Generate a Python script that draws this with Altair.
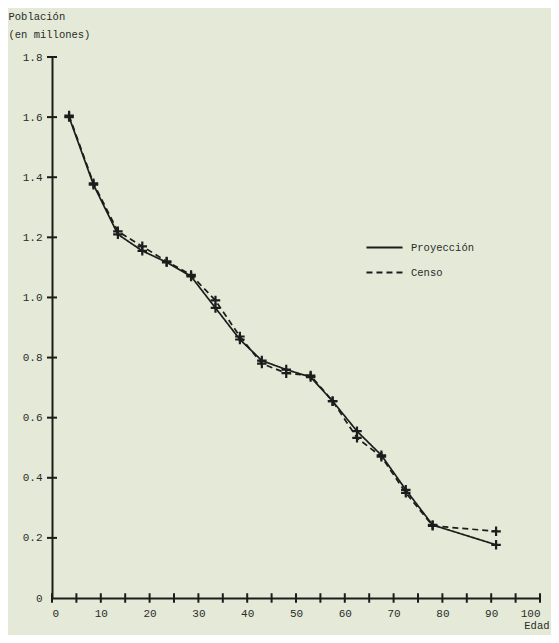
import altair as alt
import pandas as pd

# ---- data ----
series = ["Proyección", "Censo"]
edad = [3.5, 8.5, 13.5, 18.5, 23.5, 28.5, 33.5, 38.5, 43, 48, 53, 57.5, 62.5, 67.5, 72.5, 78, 91]
proyeccion = [1.600, 1.375, 1.210, 1.155, 1.117, 1.070, 0.965, 0.860, 0.790, 0.760,
              0.735, 0.655, 0.555, 0.475, 0.360, 0.243, 0.177]
censo = [1.605, 1.380, 1.220, 1.170, 1.120, 1.075, 0.990, 0.870, 0.780, 0.748,
         0.740, 0.655, 0.533, 0.470, 0.350, 0.240, 0.222]
x_ticks = list(range(0, 101, 5))
x_labels = list(range(0, 101, 10))
y_ticks = [0.2, 0.4, 0.6, 0.8, 1.0, 1.2, 1.4, 1.6, 1.8]
y_labels = [0, 0.2, 0.4, 0.6, 0.8, 1.0, 1.2, 1.4, 1.6, 1.8]

rows = []
for s, vals in zip(series, [proyeccion, censo]):
    for e, v in zip(edad, vals):
        rows.append({"Edad": e, "Poblacion": v, "Serie": s})
df = pd.DataFrame(rows)
xt = pd.DataFrame({"Edad": x_ticks, "Poblacion": [0] * len(x_ticks)})
yt = pd.DataFrame({"Edad": [0] * len(y_ticks), "Poblacion": y_ticks})

FONT = "Liberation Mono"
INK = "#1c1c1c"
x_scale = alt.Scale(domain=[0, 100], nice=False, zero=False)
y_scale = alt.Scale(domain=[0, 1.8], nice=False)

x_axis = alt.Axis(values=x_labels, tickSize=0, labelPadding=9, grid=False,
                  domainColor=INK, domainWidth=2, labelFont=FONT, labelFontSize=11,
                  labelColor="#2a2a2a", title="Edad", titleFont=FONT, titleFontSize=10.5,
                  titleFontWeight="normal", titleColor="#2a2a2a", titleX=497, titleY=30,
                  titleAlign="right", titleBaseline="alphabetic")
y_axis = alt.Axis(values=y_labels, tickSize=0, labelPadding=10, grid=False,
                  domainColor=INK, domainWidth=2, labelFont=FONT, labelFontSize=11,
                  labelColor="#2a2a2a",
                  labelExpr="datum.value == 0 ? '0' : format(datum.value, '.1f')",
                  title=["Población", "(en millones)"], titleFont=FONT, titleFontSize=10.5,
                  titleFontWeight="normal", titleColor="#2a2a2a", titleAngle=0,
                  titleX=-44, titleY=-38, titleAlign="left", titleBaseline="alphabetic",
                  titleLineHeight=18)

lines = alt.Chart(df).mark_line(color=INK, strokeWidth=1.7).encode(
    x=alt.X("Edad:Q", scale=x_scale, axis=x_axis),
    y=alt.Y("Poblacion:Q", scale=y_scale, axis=y_axis),
    strokeDash=alt.StrokeDash(
        "Serie:N",
        scale=alt.Scale(domain=series, range=[[1, 0], [6, 4]]),
        legend=alt.Legend(orient="none", legendX=313, legendY=171, title=None,
                          symbolType="stroke", symbolSize=1300, symbolStrokeWidth=2,
                          symbolStrokeColor=INK, rowPadding=-20, labelOffset=7,
                          labelFont=FONT, labelFontSize=10.5, labelColor="#2a2a2a"),
    ),
)

points = alt.Chart(df).mark_point(shape="M-1,0H1M0,-1V1", filled=False, color=INK,
                                  strokeWidth=2.2, size=90, opacity=1).encode(
    x=alt.X("Edad:Q", scale=x_scale),
    y=alt.Y("Poblacion:Q", scale=y_scale),
)

xticks = alt.Chart(xt).mark_point(shape="M0,-1V1", filled=False, color=INK,
                                  strokeWidth=2, size=90, opacity=1).encode(
    x=alt.X("Edad:Q", scale=x_scale),
    y=alt.Y("Poblacion:Q", scale=y_scale),
)

yticks = alt.Chart(yt).mark_point(shape="M-1,0H1", filled=False, color=INK,
                                  strokeWidth=2, size=100, opacity=1).encode(
    x=alt.X("Edad:Q", scale=x_scale),
    y=alt.Y("Poblacion:Q", scale=y_scale),
)

chart = alt.layer(lines, points, xticks, yticks).properties(
    width=488, height=541,
    background="#e4ead7",
    padding={"left": 44, "top": 49, "right": 11, "bottom": 37},
    autosize=alt.AutoSizeParams(type="none"),
).configure_view(stroke=None)

chart.save("out.html", embed_options={"renderer": "svg", "actions": False})
